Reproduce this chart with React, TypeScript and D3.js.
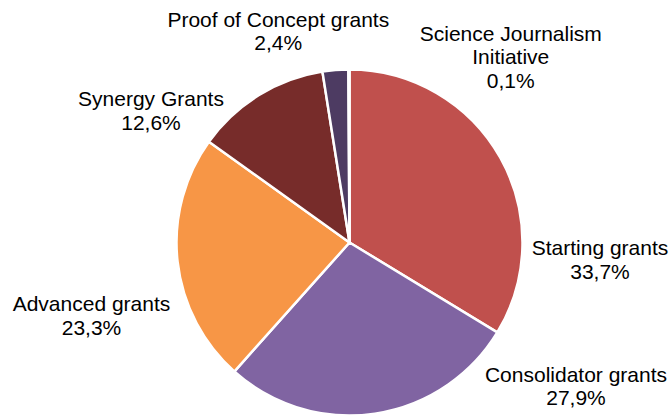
import React from "react";
import * as d3 from "d3";

const categories = [
  "Starting grants",
  "Consolidator grants",
  "Advanced grants",
  "Synergy Grants",
  "Proof of Concept grants",
  "Science Journalism Initiative",
];
const values = [33.7, 27.9, 23.3, 12.6, 2.4, 0.1];
const labelLines = [
  ["Starting grants"],
  ["Consolidator grants"],
  ["Advanced grants"],
  ["Synergy Grants"],
  ["Proof of Concept grants"],
  ["Science Journalism", "Initiative"],
];
const colors = ["#C0504D", "#8064A2", "#F79646", "#772C2A", "#4D3B62", "#4BACC6"];

// label anchor (center x, first baseline y) — layout, not data
const labelAnchors: [number, number][] = [
  [600, 255],
  [576, 381.7],
  [91.5, 311],
  [151, 106],
  [278.3, 26.8],
  [510.8, 40.7],
];

const W = 672;
const H = 417;
const cx = 349.5;
const cy = 242.5;
const R = 173;
const lineH = 23.5;

export default function App() {
  const pie = d3
    .pie<number>()
    .sort(null)
    .value((d) => d)
    .startAngle(0)
    .endAngle(2 * Math.PI);
  const arcs = pie(values);
  const arc = d3.arc<d3.PieArcDatum<number>>().innerRadius(0).outerRadius(R);
  const fmt = (v: number) => v.toFixed(1).replace(".", ",") + "%";

  return (
    <svg
      width={W}
      height={H}
      style={{ position: "absolute", left: 0, top: 0, background: "#fff" }}
      fontFamily="'Liberation Sans', Arial, sans-serif"
    >
      <g transform={`translate(${cx},${cy})`}>
        {arcs.map((a, i) => (
          <path
            key={categories[i]}
            d={arc(a) || ""}
            fill={colors[i]}
            stroke="#fff"
            strokeWidth={2.5}
            strokeLinejoin="round"
          />
        ))}
      </g>
      {categories.map((c, i) => {
        const [x, y] = labelAnchors[i];
        const lines = [...labelLines[i], fmt(values[i])];
        return (
          <text key={c} x={x} y={y} textAnchor="middle" fontSize={21} fill="#000">
            {lines.map((l, j) => (
              <tspan key={j} x={x} y={y + j * lineH}>
                {l}
              </tspan>
            ))}
          </text>
        );
      })}
    </svg>
  );
}
